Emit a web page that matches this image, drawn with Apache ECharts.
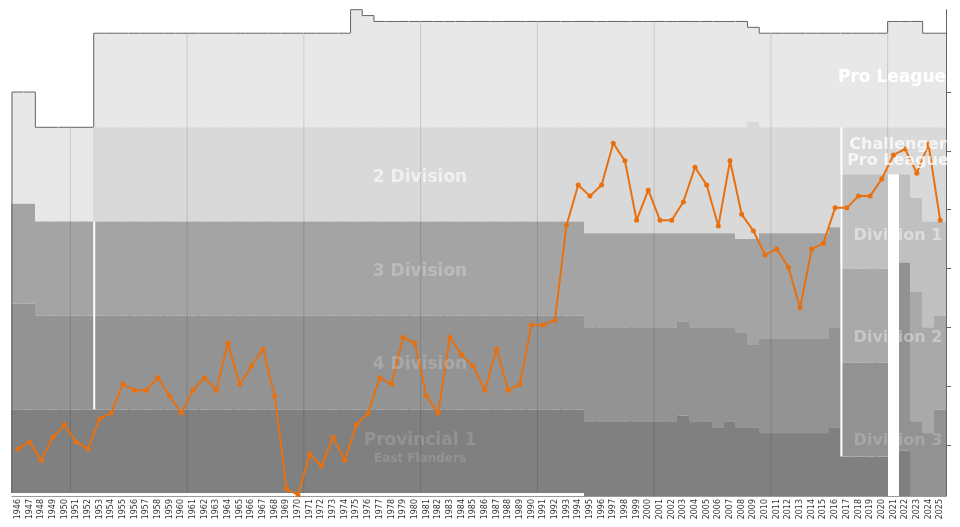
<!DOCTYPE html>
<html>
<head>
<meta charset="utf-8">
<script src="https://cdn.jsdelivr.net/npm/echarts@6/dist/echarts.min.js"></script>
<style>
  html, body { margin: 0; padding: 0; background: #fff; }
  #chart { width: 960px; height: 527px; }
</style>
</head>
<body>
<div id="chart"></div>
<script>
// seasons 1946 .. 2025
const years = []
for (let y = 1946; y <= 2025; y++) years.push(String(y))

// final overall position of the club per season (rank across the pyramid)
const position = [
  70.7, 69.5, 72.6, 68.7, 66.6, 69.5, 70.7, 65.6, 64.6, 59.7,
  60.7, 60.7, 58.6, 61.7, 64.6, 60.7, 58.6, 60.7, 52.7, 59.7,
  56.6, 53.7, 61.7, 77.5, 78.5, 71.6, 73.6, 68.7, 72.6, 66.6,
  64.6, 58.6, 59.7, 51.7, 52.7, 61.7, 64.6, 51.7, 54.7, 56.6,
  60.7, 53.7, 60.7, 59.7, 49.6, 49.6, 48.8, 32.6, 25.8, 27.7,
  25.8, 18.7, 21.7, 31.8, 26.7, 31.8, 31.8, 28.7, 22.8, 25.8,
  32.8, 21.7, 30.8, 33.6, 37.7, 36.7, 39.8, 46.7, 36.7, 35.7,
  29.7, 29.7, 27.7, 27.7, 24.8, 20.7, 19.7, 23.8, 18.9, 31.8
]

// tier boundaries, as runs [first season, rank]
const tierTop = [[1946, 10], [1948, 16], [1953, 0], [1975, -4], [1976, -3], [1977, -2], [2009, -1], [2010, 0], [2021, -2], [2024, 0]]
const tier1End = [[1946, 29], [1948, 32], [1953, 16], [2009, 15], [2010, 16]]
const tier2End = [[1946, 29], [1948, 32], [1995, 34], [2008, 35], [2010, 34], [2016, 33], [2017, 24], [2023, 28], [2024, 32]]
const tier3End = [[1946, 46], [1948, 48], [1995, 50], [2003, 49], [2004, 50], [2008, 51], [2009, 53], [2010, 52], [2016, 50], [2017, 40], [2021, 24], [2022, 39], [2023, 44], [2024, 50], [2025, 48]]
const tier4End = [[1946, 64], [1995, 66], [2003, 65], [2004, 66], [2006, 67], [2007, 66], [2008, 67], [2010, 68], [2016, 67], [2017, 56], [2021, 24], [2022, 39], [2023, 66], [2024, 68], [2025, 64]]
const tier5End = [[1946, 78.7], [2017, 72], [2021, 24], [2022, 71], [2023, 78.7]]
const pyramidEnd = [[1946, 78.2], [1995, 78.7], [2021, 24], [2022, 78.7]]

const oldColors = ['#e8e8e8', '#d9d9d9', '#a4a4a4', '#939393', '#808080', '#808080']
const newColors = ['#e8e8e8', '#d9d9d9', '#c0c0c0', '#a9a9a9', '#929292', '#808080']
const separators = [[1953, 32, 64], [2017, 16, 72]]

function expand (runs) {
  const out = []
  years.forEach(y => {
    let v = runs[0][1]
    runs.forEach(r => { if (+y >= r[0]) v = r[1] })
    out.push(v)
  })
  return out
}

const bounds = [tierTop, tier1End, tier2End, tier3End, tier4End, tier5End, pyramidEnd].map(expand)

const bandData = years.map((y, i) => [i].concat(bounds.map(b => b[i])))

function renderBand (params, api) {
  const i = api.value(0)
  const w = api.size([1, 0])[0]
  const b = []
  for (let k = 1; k <= 7; k++) b.push(api.value(k))
  const colors = (+years[i] >= 2017) ? newColors : oldColors
  const x0 = api.coord([i, 0])[0] - w / 2
  const last = i === years.length - 1
  const children = []
  for (let k = 0; k < 6; k++) {
    const p0 = api.coord([i, b[k]])[1]
    const p1 = api.coord([i, Math.min(b[k + 1], b[6])])[1]
    if (p1 - p0 > 0.1) {
      children.push({ type: 'rect', shape: { x: Math.floor(x0), y: p0, width: Math.ceil(w) + (last ? 0 : 1), height: p1 - p0 }, style: { fill: colors[k] } })
    }
  }
  const top = api.coord([i, b[0]])[1]
  const bottom = api.coord([i, b[6]])[1]
  // decade lines
  if (+years[i] % 10 === 1) {
    children.push({ type: 'line', shape: { x1: x0, y1: top, x2: x0, y2: bottom }, style: { stroke: 'rgba(0,0,0,0.13)', lineWidth: 1 } })
  }
  separators.forEach(s => {
    if (+years[i] === s[0]) {
      children.push({ type: 'line', shape: { x1: x0 + 0.5, y1: api.coord([i, s[1]])[1], x2: x0 + 0.5, y2: api.coord([i, s[2]])[1] }, style: { stroke: '#fff', lineWidth: 2 } })
    }
  })
  // outline on top
  children.push({ type: 'line', shape: { x1: x0, y1: top, x2: x0 + w, y2: top }, style: { stroke: '#666', lineWidth: 1 } })
  const prevTop = i > 0 ? api.coord([i, bounds[0][i - 1]])[1] : bottom
  if (Math.abs(prevTop - top) > 0.5) {
    children.push({ type: 'line', shape: { x1: x0, y1: prevTop, x2: x0, y2: top }, style: { stroke: '#666', lineWidth: 1 } })
  }
  return { type: 'group', children: children }
}

function tierLabel (text, x, y, color, size) {
  return {
    type: 'text', x: x, y: y, z: 100,
    style: { text: text, fill: color, font: 'bold ' + (size || 16) + 'px "DejaVu Sans", Verdana, sans-serif', textAlign: 'center', textVerticalAlign: 'middle' }
  }
}

const chart = echarts.init(document.getElementById('chart'))
chart.setOption({
  animation: false,
  grid: { left: 12, right: 14, top: 9.7, bottom: 31 },
  xAxis: {
    type: 'category',
    data: years,
    axisLine: { onZero: false, lineStyle: { color: '#999' } },
    axisTick: { interval: 0, length: 31, lineStyle: { color: '#aaa' } },
    axisLabel: { interval: 0, rotate: 90, fontSize: 8, color: '#333', margin: 3, fontFamily: 'DejaVu Sans' },
    splitLine: { show: false }
  },
  yAxis: {
    type: 'value',
    inverse: true,
    position: 'right',
    min: -4,
    max: 78.7,
    axisLine: { show: true, lineStyle: { color: '#666' } },
    axisTick: { show: true, inside: false, length: 5, customValues: [10, 20, 30, 40, 50, 60, 70], lineStyle: { color: '#666' } },
    axisLabel: { show: false },
    splitLine: { show: false }
  },
  series: [
    {
      type: 'custom',
      renderItem: renderBand,
      data: bandData,
      encode: { x: 0, y: [1, 7] },
      clip: false,
      z: 1
    },
    {
      type: 'line',
      data: position,
      symbol: 'circle',
      symbolSize: 5,
      lineStyle: { color: '#e8700f', width: 2 },
      itemStyle: { color: '#e8700f' },
      z: 5
    }
  ],
  graphic: [
    tierLabel('Pro League', 892, 78, '#ffffff', 17),
    tierLabel('Challenger', 898, 145, 'rgba(255,255,255,0.75)'),
    tierLabel('Pro League', 898, 161, 'rgba(255,255,255,0.75)'),
    tierLabel('Division 1', 898, 236, 'rgba(255,255,255,0.45)'),
    tierLabel('Division 2', 898, 338, 'rgba(255,255,255,0.35)'),
    tierLabel('Division 3', 898, 441, 'rgba(255,255,255,0.2)'),
    tierLabel('2 Division', 420, 178, 'rgba(255,255,255,0.6)', 17),
    tierLabel('3 Division', 420, 272, 'rgba(255,255,255,0.25)', 17),
    tierLabel('4 Division', 420, 365, 'rgba(255,255,255,0.2)', 17),
    tierLabel('Provincial 1', 420, 441, 'rgba(255,255,255,0.15)', 17),
    tierLabel('East Flanders', 420, 459, 'rgba(255,255,255,0.15)', 12)
  ]
})
</script>
</body>
</html>
